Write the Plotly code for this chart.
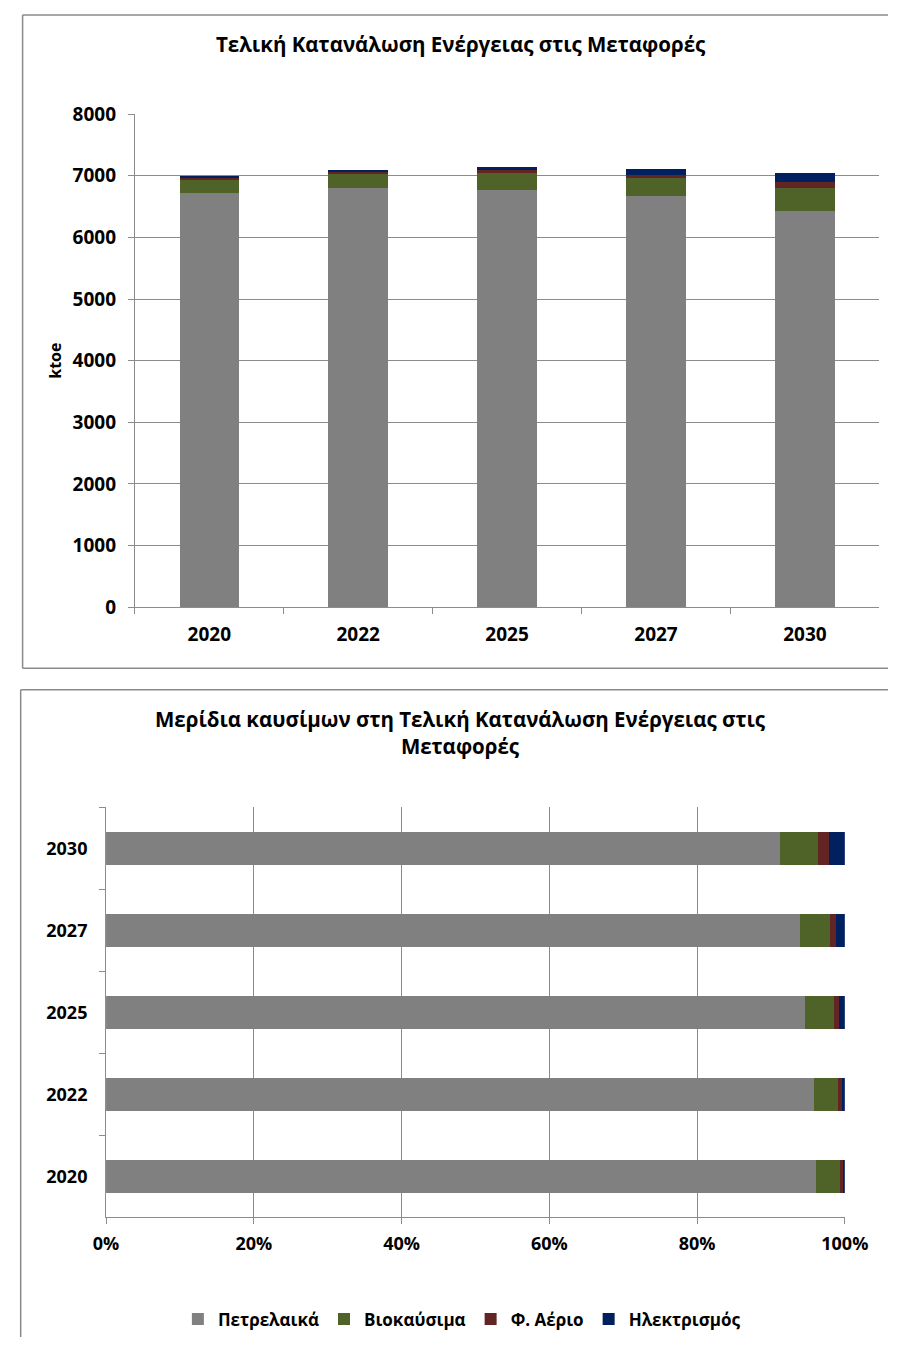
import plotly.graph_objects as go

years = ["2020", "2022", "2025", "2027", "2030"]
fuels = ["Πετρελαικά", "Βιοκαύσιμα", "Φ. Αέριο", "Ηλεκτρισμός"]
petroleum = [6712, 6795, 6760, 6670, 6425]
biofuels = [232, 235, 285, 285, 368]
natural_gas = [22, 32, 45, 62, 100]
electricity = [22, 30, 55, 85, 155]
colors = ["#808080", "#4F6228", "#632523", "#002060"]

series = [petroleum, biofuels, natural_gas, electricity]
totals = [sum(v) for v in zip(*series)]
shares = [[100.0 * v / t for v, t in zip(s, totals)] for s in series]

W, H = 912, 1350
FONT = "Open Sans"
GRID = "#8C8C8C"
BORDER = "#8A8A8A"

fig = go.Figure()

for name, vals, col in zip(fuels, series, colors):
    fig.add_trace(go.Bar(x=years, y=vals, name=name, marker=dict(color=col, line=dict(width=0)),
                         xaxis="x", yaxis="y", showlegend=False))
for name, vals, col in zip(fuels, shares, colors):
    fig.add_trace(go.Bar(y=years, x=vals, name=name, orientation="h",
                         marker=dict(color=col, line=dict(width=0)),
                         xaxis="x2", yaxis="y2", showlegend=True))

def px_x(p):
    return p / W

def px_y(p):
    return 1 - p / H

TICK_TOP = dict(family=FONT, size=19, color="#000000", weight="bold")
TICK_BOT = dict(family=FONT, size=18, color="#000000", weight="bold")

def border_line(x0, y0, x1, y1):
    return dict(type="line", xref="paper", yref="paper", x0=px_x(x0), y0=px_y(y0),
                x1=px_x(x1), y1=px_y(y1), line=dict(color=BORDER, width=1.5), layer="below")

fig.update_layout(
    width=W, height=H,
    margin=dict(l=0, r=0, t=0, b=0, pad=0),
    paper_bgcolor="white", plot_bgcolor="white",
    barmode="stack", bargap=0.6,
    font=dict(family=FONT, color="#000000"),
    xaxis=dict(domain=[px_x(127), px_x(903)], anchor="y", type="category",
               showline=True, linecolor=GRID, linewidth=1,
               ticks="outside", tickson="boundaries", ticklen=6, tickcolor=GRID,
               ticklabelstandoff=10, tickfont=TICK_TOP, showgrid=False),
    yaxis=dict(domain=[px_y(606), px_y(103)], anchor="x", range=[0, 8000], dtick=1000,
               showline=True, linecolor=GRID, linewidth=1,
               ticks="outside", ticklen=6, tickcolor=GRID, ticklabelstandoff=8,
               showgrid=True, gridcolor=GRID, gridwidth=1,
               tickfont=TICK_TOP,
               title=dict(text="ktoe", font=dict(family=FONT, size=16, color="#000000", weight="bold"),
                          standoff=6)),
    xaxis2=dict(domain=[px_x(97), px_x(867)], anchor="y2", range=[0, 100], dtick=20,
                ticksuffix="%", showline=True, linecolor=GRID, linewidth=1,
                ticks="outside", ticklen=6, tickcolor=GRID, ticklabelstandoff=4,
                showgrid=True, gridcolor=GRID, gridwidth=1,
                tickfont=TICK_BOT),
    yaxis2=dict(domain=[px_y(1228), px_y(810)], anchor="x2", type="category",
                showline=True, linecolor=GRID, linewidth=1,
                ticks="outside", tickson="boundaries", ticklen=6, tickcolor=GRID,
                ticklabelstandoff=14, showgrid=False, tickfont=TICK_BOT),
    legend=dict(orientation="h", x=0.513, xanchor="center", y=px_y(1332), yanchor="middle",
                font=dict(family=FONT, size=17, color="#000000", weight="bold"),
                itemwidth=30, traceorder="normal", bgcolor="rgba(0,0,0,0)"),
    annotations=[
        dict(text="Τελική Κατανάλωση Ενέργειας στις Μεταφορές", xref="paper", yref="paper",
             x=px_x(467), y=px_y(32), xanchor="center", yanchor="middle", showarrow=False,
             font=dict(family=FONT, size=20.5, color="#000000", weight="bold")),
        dict(text="Μερίδια καυσίμων στη Τελική Κατανάλωση Ενέργειας στις<br>Μεταφορές",
             xref="paper", yref="paper",
             x=px_x(466), y=px_y(734), xanchor="center", yanchor="middle", showarrow=False,
             font=dict(family=FONT, size=20.5, color="#000000", weight="bold")),
    ],
    shapes=[
        border_line(10, 2, 912, 2),
        border_line(10, 2, 10, 668),
        border_line(10, 668, 912, 668),
        border_line(8, 690, 912, 690),
        border_line(8, 690, 8, 1350),
    ],
)

fig.write_html(
    "out.html",
    config=dict(displayModeBar=False),
    post_script="document.body.style.margin='0';document.body.style.padding='0';"
                "document.documentElement.style.overflow='hidden';document.body.style.overflow='hidden';",
)
